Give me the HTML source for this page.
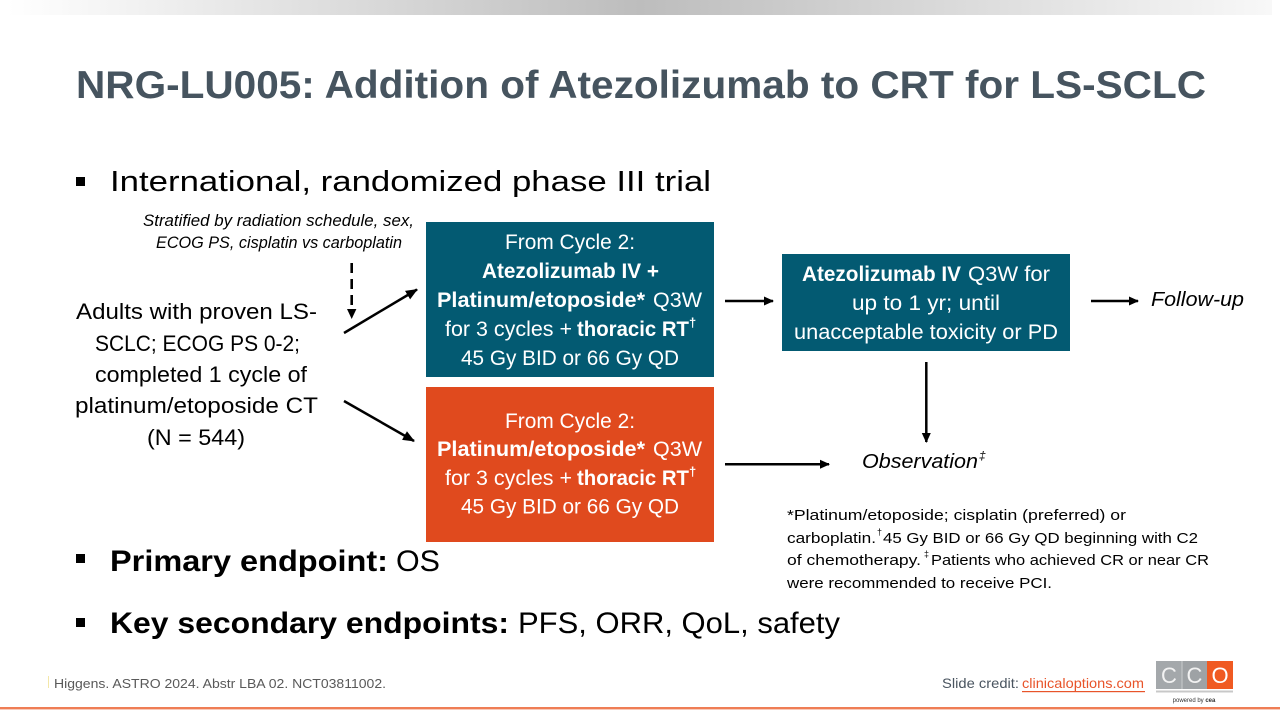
<!DOCTYPE html>
<html><head><meta charset="utf-8"><style>
html,body{margin:0;padding:0;background:#fff;}
svg{display:block;}
text{font-family:"Liberation Sans",Arial,sans-serif;}
</style></head><body>
<svg width="1280" height="720" viewBox="0 0 1280 720" xmlns="http://www.w3.org/2000/svg">
<defs>
<linearGradient id="tg" x1="0" y1="0" x2="1" y2="0">
<stop offset="0" stop-color="#ffffff"/>
<stop offset="0.5" stop-color="#bdbdbd"/>
<stop offset="1" stop-color="#f8f8f8"/>
</linearGradient>
<marker id="ah" markerUnits="userSpaceOnUse" markerWidth="12" markerHeight="10" refX="11" refY="5" orient="auto">
<path d="M0,0 L12,5 L0,10 z" fill="#000"/>
</marker>
<marker id="ahs" markerUnits="userSpaceOnUse" markerWidth="10" markerHeight="10" refX="9" refY="5" orient="auto">
<path d="M0,0.5 L10,5 L0,9.5 z" fill="#000"/>
</marker>
</defs>
<rect width="1280" height="720" fill="#fff"/>
<rect x="8" y="0" width="1264" height="15" fill="url(#tg)"/>

<!-- Title -->
<text x="76" y="98" font-size="39" font-weight="bold" fill="#46545f" textLength="1130" lengthAdjust="spacingAndGlyphs">NRG-LU005: Addition of Atezolizumab to CRT for LS-SCLC</text>

<!-- Bullet 1 -->
<rect x="76" y="177" width="9" height="9" fill="#000"/>
<text x="110" y="191" font-size="29" fill="#000" textLength="601" lengthAdjust="spacingAndGlyphs">International, randomized phase III trial</text>

<!-- Stratified -->
<text x="143" y="226" font-size="16.5" font-style="italic" fill="#000" textLength="271" lengthAdjust="spacingAndGlyphs">Stratified by radiation schedule, sex,</text>
<text x="156" y="248" font-size="16.5" font-style="italic" fill="#000" textLength="246" lengthAdjust="spacingAndGlyphs">ECOG PS, cisplatin vs carboplatin</text>

<!-- Left text -->
<text x="76" y="319" font-size="22.5" fill="#000" textLength="241" lengthAdjust="spacingAndGlyphs">Adults with proven LS-</text>
<text x="95" y="351" font-size="22.5" fill="#000" textLength="205" lengthAdjust="spacingAndGlyphs">SCLC; ECOG PS 0-2;</text>
<text x="95" y="382" font-size="22.5" fill="#000" textLength="212" lengthAdjust="spacingAndGlyphs">completed 1 cycle of</text>
<text x="75" y="413" font-size="22.5" fill="#000" textLength="243" lengthAdjust="spacingAndGlyphs">platinum/etoposide CT</text>
<text x="147" y="445" font-size="22.5" fill="#000" textLength="98" lengthAdjust="spacingAndGlyphs">(N = 544)</text>

<!-- Arrows -->
<line x1="351.7" y1="263" x2="351.7" y2="309" stroke="#000" stroke-width="2.6" stroke-dasharray="10,6"/>
<path d="M347,309 L356.4,309 L351.7,319 z" fill="#000"/>
<line x1="344" y1="333" x2="417" y2="289.5" stroke="#000" stroke-width="2.5" marker-end="url(#ah)"/>
<line x1="344" y1="401" x2="414" y2="441" stroke="#000" stroke-width="2.5" marker-end="url(#ah)"/>
<line x1="725" y1="301" x2="773" y2="301" stroke="#000" stroke-width="2.5" marker-end="url(#ahs)"/>
<line x1="1091" y1="301" x2="1138" y2="301" stroke="#000" stroke-width="2.5" marker-end="url(#ahs)"/>
<line x1="926.3" y1="362" x2="926.3" y2="442" stroke="#000" stroke-width="2.5" marker-end="url(#ahs)"/>
<line x1="725" y1="464.3" x2="829" y2="464.3" stroke="#000" stroke-width="2.5" marker-end="url(#ahs)"/>

<!-- Box 1 teal -->
<rect x="426" y="222" width="288" height="155" fill="#035a72"/>
<text x="505" y="249" font-size="21" fill="#fff" textLength="130" lengthAdjust="spacingAndGlyphs">From Cycle 2:</text>
<text x="482" y="278" font-size="21" font-weight="bold" fill="#fff" textLength="177" lengthAdjust="spacingAndGlyphs">Atezolizumab IV +</text>
<text x="437" y="307" font-size="21" font-weight="bold" fill="#fff" textLength="208" lengthAdjust="spacingAndGlyphs">Platinum/etoposide*</text>
<text x="653" y="307" font-size="21" fill="#fff" textLength="49" lengthAdjust="spacingAndGlyphs">Q3W</text>
<text x="445" y="336" font-size="21" fill="#fff" textLength="127" lengthAdjust="spacingAndGlyphs">for 3 cycles +</text>
<text x="577" y="336" font-size="21" font-weight="bold" fill="#fff" textLength="112" lengthAdjust="spacingAndGlyphs">thoracic RT</text>
<text x="689" y="327" font-size="13" font-weight="bold" fill="#fff">†</text>
<text x="461" y="365" font-size="21" fill="#fff" textLength="218" lengthAdjust="spacingAndGlyphs">45 Gy BID or 66 Gy QD</text>

<!-- Box 2 orange -->
<rect x="426" y="387" width="288" height="155" fill="#e04a1e"/>
<text x="505" y="428" font-size="21" fill="#fff" textLength="130" lengthAdjust="spacingAndGlyphs">From Cycle 2:</text>
<text x="437" y="456" font-size="21" font-weight="bold" fill="#fff" textLength="208" lengthAdjust="spacingAndGlyphs">Platinum/etoposide*</text>
<text x="653" y="456" font-size="21" fill="#fff" textLength="49" lengthAdjust="spacingAndGlyphs">Q3W</text>
<text x="445" y="485" font-size="21" fill="#fff" textLength="127" lengthAdjust="spacingAndGlyphs">for 3 cycles +</text>
<text x="577" y="485" font-size="21" font-weight="bold" fill="#fff" textLength="112" lengthAdjust="spacingAndGlyphs">thoracic RT</text>
<text x="689" y="476" font-size="13" font-weight="bold" fill="#fff">†</text>
<text x="461" y="513.5" font-size="21" fill="#fff" textLength="218" lengthAdjust="spacingAndGlyphs">45 Gy BID or 66 Gy QD</text>

<!-- Box 3 teal -->
<rect x="782" y="254" width="288" height="97" fill="#035a72"/>
<text x="802" y="281" font-size="21" font-weight="bold" fill="#fff" textLength="159" lengthAdjust="spacingAndGlyphs">Atezolizumab IV</text>
<text x="968" y="281" font-size="21" fill="#fff" textLength="82" lengthAdjust="spacingAndGlyphs">Q3W for</text>
<text x="852" y="310" font-size="21" fill="#fff" textLength="148" lengthAdjust="spacingAndGlyphs">up to 1 yr; until</text>
<text x="794" y="339" font-size="21" fill="#fff" textLength="264" lengthAdjust="spacingAndGlyphs">unacceptable toxicity or PD</text>

<!-- Follow-up / Observation -->
<text x="1151" y="306" font-size="20.5" font-style="italic" fill="#000" textLength="93" lengthAdjust="spacingAndGlyphs">Follow-up</text>
<text x="862" y="468" font-size="20" font-style="italic" fill="#000" textLength="116" lengthAdjust="spacingAndGlyphs">Observation</text>
<text x="979" y="460" font-size="12" font-style="italic" fill="#000">‡</text>

<!-- Footnote -->
<text x="787" y="520" font-size="15" fill="#000" textLength="339" lengthAdjust="spacingAndGlyphs">*Platinum/etoposide; cisplatin (preferred) or</text>
<text x="787" y="543" font-size="15" fill="#000" textLength="89" lengthAdjust="spacingAndGlyphs">carboplatin.</text>
<text x="877" y="535" font-size="9" fill="#000">†</text>
<text x="883" y="543" font-size="15" fill="#000" textLength="315" lengthAdjust="spacingAndGlyphs">45 Gy BID or 66 Gy QD beginning with C2</text>
<text x="787" y="565" font-size="15" fill="#000" textLength="134" lengthAdjust="spacingAndGlyphs">of chemotherapy.</text>
<text x="924" y="557" font-size="9" fill="#000">‡</text>
<text x="931" y="565" font-size="15" fill="#000" textLength="278" lengthAdjust="spacingAndGlyphs">Patients who achieved CR or near CR</text>
<text x="787" y="588" font-size="15" fill="#000" textLength="265" lengthAdjust="spacingAndGlyphs">were recommended to receive PCI.</text>

<!-- Bullet 2 -->
<rect x="76" y="554" width="9" height="9" fill="#000"/>
<text x="110" y="571" font-size="30" font-weight="bold" fill="#000" textLength="278" lengthAdjust="spacingAndGlyphs">Primary endpoint:</text>
<text x="396" y="571" font-size="30" fill="#000" textLength="44" lengthAdjust="spacingAndGlyphs">OS</text>

<!-- Bullet 3 -->
<rect x="76" y="618" width="9" height="9" fill="#000"/>
<text x="110" y="633" font-size="30" font-weight="bold" fill="#000" textLength="399" lengthAdjust="spacingAndGlyphs">Key secondary endpoints:</text>
<text x="518" y="633" font-size="30" fill="#000" textLength="322" lengthAdjust="spacingAndGlyphs">PFS, ORR, QoL, safety</text>

<!-- Footer -->
<rect x="48" y="676" width="1" height="12" fill="#f3e7a8"/>
<text x="54" y="688" font-size="13" fill="#595959" textLength="332" lengthAdjust="spacingAndGlyphs">Higgens. ASTRO 2024. Abstr LBA 02. NCT03811002.</text>
<text x="942" y="688" font-size="14" fill="#4a5560" textLength="77" lengthAdjust="spacingAndGlyphs">Slide credit:</text>
<text x="1022" y="688" font-size="14" fill="#e8542a" textLength="122" lengthAdjust="spacingAndGlyphs">clinicaloptions.com</text>
<rect x="1022" y="691" width="123" height="1.2" fill="#e8542a"/>

<!-- CCO logo -->
<rect x="1156" y="661" width="26" height="28" fill="#a4a8ab"/>
<rect x="1182" y="661" width="25" height="28" fill="#9ea2a5"/>
<rect x="1181.5" y="661" width="1" height="28" fill="#c9cccd"/>
<rect x="1207" y="661" width="26" height="28" fill="#f05a22"/>
<text x="1169" y="683" font-size="22" fill="#f2f2f2" text-anchor="middle">C</text>
<text x="1194.5" y="683" font-size="22" fill="#f2f2f2" text-anchor="middle">C</text>
<text x="1220" y="683" font-size="22" fill="#ffffff" text-anchor="middle">O</text>
<rect x="1156" y="690.5" width="77" height="2" fill="#c8c8c8"/>
<text x="1194" y="702" font-size="6" fill="#333" text-anchor="middle">powered by <tspan font-weight="bold">cea</tspan></text>

<!-- Bottom orange line -->
<rect x="0" y="707" width="1280" height="2.4" fill="#ef7d55"/>
</svg>
</body></html>
